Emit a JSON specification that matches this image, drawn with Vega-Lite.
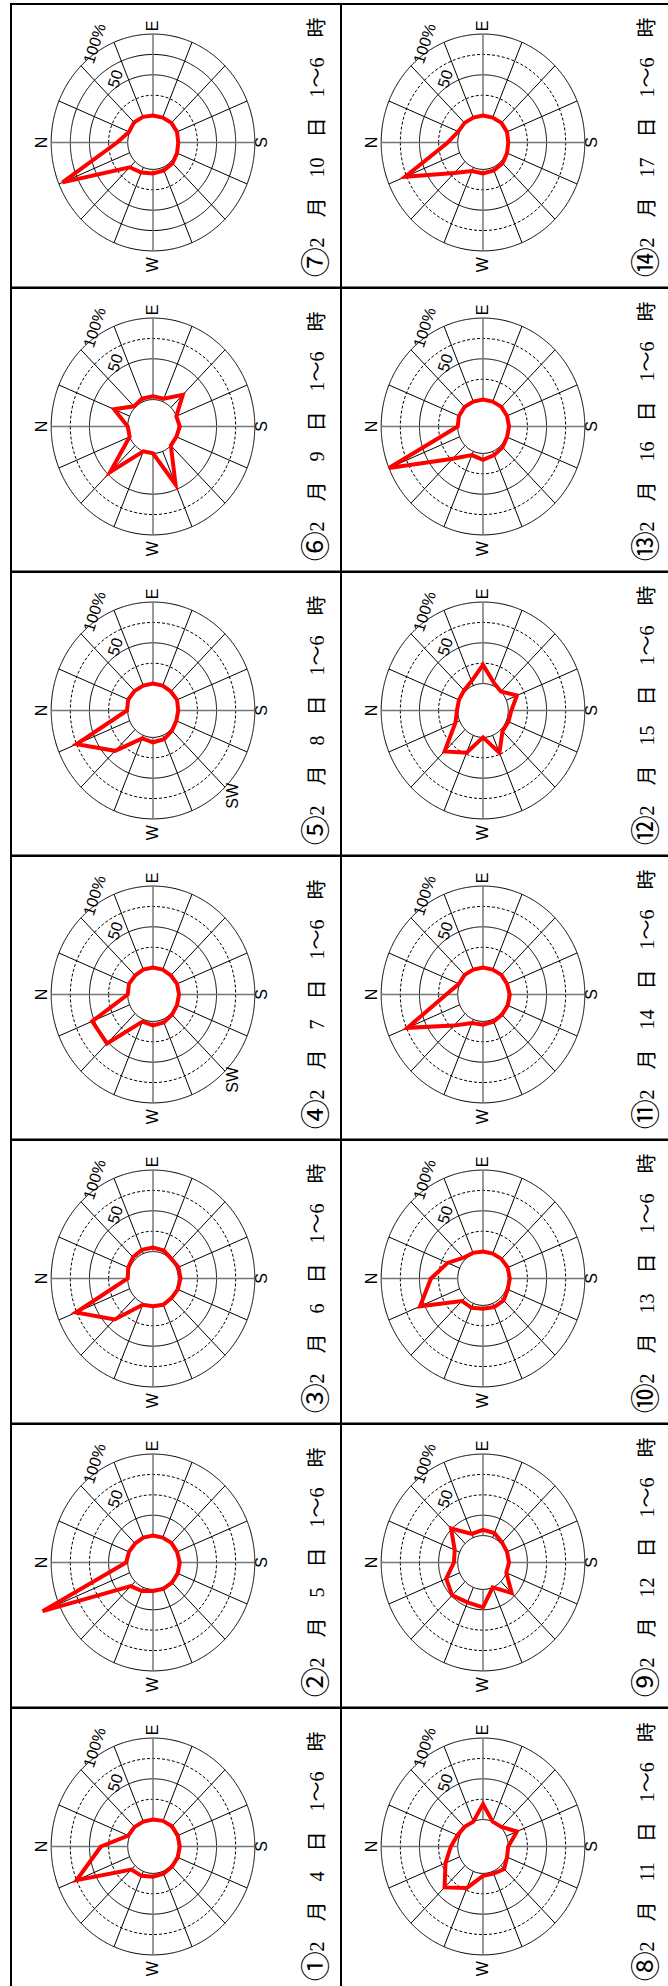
{
  "$schema": "https://vega.github.io/schema/vega-lite/v6.json",
  "background": "white",
  "padding": {"left": 10, "top": 3, "right": 0, "bottom": 0},
  "bounds": "flush",
  "config": {"view": {"stroke": "black", "strokeWidth": 2}},
  "data": {"values": [
    {"k":"r","pl":["p01","p02","p03","p04","p05","p06","p07","p08","p09","p10","p11","p12","p13","p14"],"v":0},
    {"k":"r","pl":["p01","p02","p03","p04","p05","p07","p08","p09","p10","p11","p12","p13","p14"],"v":25},
    {"k":"r","pl":["p01","p02","p03","p04","p05","p06","p07","p08","p09","p10","p11","p12","p13","p14"],"v":50},
    {"k":"r","pl":["p01","p02","p03","p04","p05","p06","p07","p08","p09","p10","p11","p12","p13","p14"],"v":75},
    {"k":"r","pl":["p01","p02","p03","p04","p05","p06","p07","p08","p09","p10","p11","p12","p13","p14"],"v":100},
    {"k":"s","pl":["p01","p02","p03","p04","p05","p06","p07","p08","p09","p10","p11","p12","p13","p14"],"d":0},
    {"k":"s","pl":["p01","p02","p03","p04","p05","p06","p07","p08","p09","p10","p11","p12","p13","p14"],"d":22.5},
    {"k":"s","pl":["p01","p02","p03","p04","p05","p06","p07","p08","p09","p10","p11","p12","p13","p14"],"d":45},
    {"k":"s","pl":["p01","p02","p03","p04","p05","p06","p07","p08","p09","p10","p11","p12","p13","p14"],"d":67.5},
    {"k":"s","pl":["p01","p02","p03","p04","p05","p06","p07","p08","p09","p10","p11","p12","p13","p14"],"d":90},
    {"k":"s","pl":["p01","p02","p03","p04","p05","p06","p07","p08","p09","p10","p11","p12","p13","p14"],"d":112.5},
    {"k":"s","pl":["p01","p02","p03","p04","p05","p06","p07","p08","p09","p10","p11","p12","p13","p14"],"d":135},
    {"k":"s","pl":["p01","p02","p03","p04","p05","p06","p07","p08","p09","p10","p11","p12","p13","p14"],"d":157.5},
    {"k":"s","pl":["p01","p02","p03","p04","p05","p06","p07","p08","p09","p10","p11","p12","p13","p14"],"d":180},
    {"k":"s","pl":["p01","p02","p03","p04","p05","p06","p07","p08","p09","p10","p11","p12","p13","p14"],"d":202.5},
    {"k":"s","pl":["p01","p02","p03","p04","p05","p06","p07","p08","p09","p10","p11","p12","p13","p14"],"d":225},
    {"k":"s","pl":["p01","p02","p03","p04","p05","p06","p07","p08","p09","p10","p11","p12","p13","p14"],"d":247.5},
    {"k":"s","pl":["p01","p02","p03","p04","p05","p06","p07","p08","p09","p10","p11","p12","p13","p14"],"d":270},
    {"k":"s","pl":["p01","p02","p03","p04","p05","p06","p07","p08","p09","p10","p11","p12","p13","p14"],"d":292.5},
    {"k":"s","pl":["p01","p02","p03","p04","p05","p06","p07","p08","p09","p10","p11","p12","p13","p14"],"d":315},
    {"k":"s","pl":["p01","p02","p03","p04","p05","p06","p07","p08","p09","p10","p11","p12","p13","p14"],"d":337.5},
    {"k":"c","pl":["p01","p02","p03","p04","p05","p06","p07","p08","p09","p10","p11","p12","p13","p14"],"t":"N","d":0,"v":112},
    {"k":"c","pl":["p01","p02","p03","p04","p05","p06","p07","p08","p09","p10","p11","p12","p13","p14"],"t":"E","d":90,"v":110},
    {"k":"c","pl":["p01","p02","p03","p04","p05","p06","p07","p08","p09","p10","p11","p12","p13","p14"],"t":"S","d":180,"v":109},
    {"k":"c","pl":["p01","p02","p03","p04","p05","p06","p07","p08","p09","p10","p11","p12","p13","p14"],"t":"W","d":270,"v":117},
    {"k":"c","pl":["p04","p05"],"t":"SW","d":225,"v":115},
    {"k":"l","pl":["p01","p02","p03","p04","p05","p06","p07","p08","p09","p10","p11","p12","p13","p14"],"t":"50","d":58,"v":59},
    {"k":"l","pl":["p01","p02","p03","p04","p05","p06","p07","p08","p09","p10","p11","p12","p13","p14"],"t":"100%","d":58,"v":110},
    {"k":"t","pl":["p01"],"n":"①","t":"2　月　4　日　1〜6　時"},
    {"k":"t","pl":["p02"],"n":"②","t":"2　月　5　日　1〜6　時"},
    {"k":"t","pl":["p03"],"n":"③","t":"2　月　6　日　1〜6　時"},
    {"k":"t","pl":["p04"],"n":"④","t":"2　月　7　日　1〜6　時"},
    {"k":"t","pl":["p05"],"n":"⑤","t":"2　月　8　日　1〜6　時"},
    {"k":"t","pl":["p06"],"n":"⑥","t":"2　月　9　日　1〜6　時"},
    {"k":"t","pl":["p07"],"n":"⑦","t":"2　月　10　日　1〜6　時"},
    {"k":"t","pl":["p08"],"n":"⑧","t":"2　月　11　日　1〜6　時"},
    {"k":"t","pl":["p09"],"n":"⑨","t":"2　月　12　日　1〜6　時"},
    {"k":"t","pl":["p10"],"n":"⑩","t":"2　月　13　日　1〜6　時"},
    {"k":"t","pl":["p11"],"n":"⑪","t":"2　月　14　日　1〜6　時"},
    {"k":"t","pl":["p12"],"n":"⑫","t":"2　月　15　日　1〜6　時"},
    {"k":"t","pl":["p13"],"n":"⑬","t":"2　月　16　日　1〜6　時"},
    {"k":"t","pl":["p14"],"n":"⑭","t":"2　月　17　日　1〜6　時"},

    {"k":"w","pl":["p01"],"d":0,"v":35},{"k":"w","pl":["p01"],"d":22.5,"v":2},{"k":"w","pl":["p01"],"d":45,"v":1},{"k":"w","pl":["p01"],"d":67.5,"v":0},
    {"k":"w","pl":["p01"],"d":90,"v":0},{"k":"w","pl":["p01"],"d":112.5,"v":1},{"k":"w","pl":["p01"],"d":135,"v":2},{"k":"w","pl":["p01"],"d":157.5,"v":2},
    {"k":"w","pl":["p01"],"d":180,"v":2},{"k":"w","pl":["p01"],"d":202.5,"v":2},{"k":"w","pl":["p01"],"d":225,"v":2},{"k":"w","pl":["p01"],"d":247.5,"v":3},
    {"k":"w","pl":["p01"],"d":270,"v":4},{"k":"w","pl":["p01"],"d":292.5,"v":6},{"k":"w","pl":["p01"],"d":315,"v":7},{"k":"w","pl":["p01"],"d":337.5,"v":75},

    {"k":"w","pl":["p02"],"d":0,"v":2},{"k":"w","pl":["p02"],"d":22.5,"v":1},{"k":"w","pl":["p02"],"d":45,"v":0},{"k":"w","pl":["p02"],"d":67.5,"v":0},
    {"k":"w","pl":["p02"],"d":90,"v":0},{"k":"w","pl":["p02"],"d":112.5,"v":0},{"k":"w","pl":["p02"],"d":135,"v":1},{"k":"w","pl":["p02"],"d":157.5,"v":1},
    {"k":"w","pl":["p02"],"d":180,"v":2},{"k":"w","pl":["p02"],"d":202.5,"v":2},{"k":"w","pl":["p02"],"d":225,"v":2},{"k":"w","pl":["p02"],"d":247.5,"v":2},
    {"k":"w","pl":["p02"],"d":270,"v":2},{"k":"w","pl":["p02"],"d":292.5,"v":5},{"k":"w","pl":["p02"],"d":315,"v":8},{"k":"w","pl":["p02"],"d":337.5,"v":123},

    {"k":"w","pl":["p03"],"d":0,"v":0},{"k":"w","pl":["p03"],"d":22.5,"v":2},{"k":"w","pl":["p03"],"d":45,"v":4},{"k":"w","pl":["p03"],"d":67.5,"v":5},
    {"k":"w","pl":["p03"],"d":90,"v":5},{"k":"w","pl":["p03"],"d":112.5,"v":4},{"k":"w","pl":["p03"],"d":135,"v":1},{"k":"w","pl":["p03"],"d":157.5,"v":3},
    {"k":"w","pl":["p03"],"d":180,"v":3},{"k":"w","pl":["p03"],"d":202.5,"v":2},{"k":"w","pl":["p03"],"d":225,"v":1},{"k":"w","pl":["p03"],"d":247.5,"v":2},
    {"k":"w","pl":["p03"],"d":270,"v":1},{"k":"w","pl":["p03"],"d":292.5,"v":2},{"k":"w","pl":["p03"],"d":315,"v":38},{"k":"w","pl":["p03"],"d":337.5,"v":76},

    {"k":"w","pl":["p04"],"d":0,"v":0},{"k":"w","pl":["p04"],"d":22.5,"v":1},{"k":"w","pl":["p04"],"d":45,"v":0},{"k":"w","pl":["p04"],"d":67.5,"v":0},
    {"k":"w","pl":["p04"],"d":90,"v":0},{"k":"w","pl":["p04"],"d":112.5,"v":0},{"k":"w","pl":["p04"],"d":135,"v":0},{"k":"w","pl":["p04"],"d":157.5,"v":1},
    {"k":"w","pl":["p04"],"d":180,"v":1},{"k":"w","pl":["p04"],"d":202.5,"v":1},{"k":"w","pl":["p04"],"d":225,"v":2},{"k":"w","pl":["p04"],"d":247.5,"v":4},
    {"k":"w","pl":["p04"],"d":270,"v":5},{"k":"w","pl":["p04"],"d":292.5,"v":3},{"k":"w","pl":["p04"],"d":315,"v":52},{"k":"w","pl":["p04"],"d":337.5,"v":53},

    {"k":"w","pl":["p05"],"d":0,"v":1},{"k":"w","pl":["p05"],"d":22.5,"v":2},{"k":"w","pl":["p05"],"d":45,"v":1},{"k":"w","pl":["p05"],"d":67.5,"v":0},
    {"k":"w","pl":["p05"],"d":90,"v":0},{"k":"w","pl":["p05"],"d":112.5,"v":0},{"k":"w","pl":["p05"],"d":135,"v":0},{"k":"w","pl":["p05"],"d":157.5,"v":1},
    {"k":"w","pl":["p05"],"d":180,"v":0},{"k":"w","pl":["p05"],"d":202.5,"v":0},{"k":"w","pl":["p05"],"d":225,"v":2},{"k":"w","pl":["p05"],"d":247.5,"v":5},
    {"k":"w","pl":["p05"],"d":270,"v":6},{"k":"w","pl":["p05"],"d":292.5,"v":4},{"k":"w","pl":["p05"],"d":315,"v":37},{"k":"w","pl":["p05"],"d":337.5,"v":75},

    {"k":"w","pl":["p06"],"d":0,"v":0},{"k":"w","pl":["p06"],"d":22.5,"v":22},{"k":"w","pl":["p06"],"d":45,"v":2},{"k":"w","pl":["p06"],"d":67.5,"v":4},
    {"k":"w","pl":["p06"],"d":90,"v":4},{"k":"w","pl":["p06"],"d":112.5,"v":4},{"k":"w","pl":["p06"],"d":135,"v":22},{"k":"w","pl":["p06"],"d":157.5,"v":0},
    {"k":"w","pl":["p06"],"d":180,"v":2},{"k":"w","pl":["p06"],"d":202.5,"v":0},{"k":"w","pl":["p06"],"d":225,"v":0},{"k":"w","pl":["p06"],"d":247.5,"v":44},
    {"k":"w","pl":["p06"],"d":270,"v":0},{"k":"w","pl":["p06"],"d":292.5,"v":0},{"k":"w","pl":["p06"],"d":315,"v":46},{"k":"w","pl":["p06"],"d":337.5,"v":0},

    {"k":"w","pl":["p07"],"d":0,"v":14},{"k":"w","pl":["p07"],"d":22.5,"v":1},{"k":"w","pl":["p07"],"d":45,"v":2},{"k":"w","pl":["p07"],"d":67.5,"v":1},
    {"k":"w","pl":["p07"],"d":90,"v":0},{"k":"w","pl":["p07"],"d":112.5,"v":0},{"k":"w","pl":["p07"],"d":135,"v":1},{"k":"w","pl":["p07"],"d":157.5,"v":1},
    {"k":"w","pl":["p07"],"d":180,"v":0},{"k":"w","pl":["p07"],"d":202.5,"v":1},{"k":"w","pl":["p07"],"d":225,"v":3},{"k":"w","pl":["p07"],"d":247.5,"v":4},
    {"k":"w","pl":["p07"],"d":270,"v":5},{"k":"w","pl":["p07"],"d":292.5,"v":7},{"k":"w","pl":["p07"],"d":315,"v":10},{"k":"w","pl":["p07"],"d":337.5,"v":95},

    {"k":"w","pl":["p08"],"d":0,"v":9},{"k":"w","pl":["p08"],"d":22.5,"v":3},{"k":"w","pl":["p08"],"d":45,"v":1},{"k":"w","pl":["p08"],"d":67.5,"v":0},
    {"k":"w","pl":["p08"],"d":90,"v":19},{"k":"w","pl":["p08"],"d":112.5,"v":0},{"k":"w","pl":["p08"],"d":135,"v":1},{"k":"w","pl":["p08"],"d":157.5,"v":15},
    {"k":"w","pl":["p08"],"d":180,"v":0},{"k":"w","pl":["p08"],"d":202.5,"v":1},{"k":"w","pl":["p08"],"d":225,"v":6},{"k":"w","pl":["p08"],"d":247.5,"v":3},
    {"k":"w","pl":["p08"],"d":270,"v":3},{"k":"w","pl":["p08"],"d":292.5,"v":22},{"k":"w","pl":["p08"],"d":315,"v":38},{"k":"w","pl":["p08"],"d":337.5,"v":20},

    {"k":"w","pl":["p09"],"d":0,"v":5},{"k":"w","pl":["p09"],"d":22.5,"v":7},{"k":"w","pl":["p09"],"d":45,"v":26},{"k":"w","pl":["p09"],"d":67.5,"v":5},
    {"k":"w","pl":["p09"],"d":90,"v":7},{"k":"w","pl":["p09"],"d":112.5,"v":6},{"k":"w","pl":["p09"],"d":135,"v":2},{"k":"w","pl":["p09"],"d":157.5,"v":1},
    {"k":"w","pl":["p09"],"d":180,"v":1},{"k":"w","pl":["p09"],"d":202.5,"v":0},{"k":"w","pl":["p09"],"d":225,"v":20},{"k":"w","pl":["p09"],"d":247.5,"v":0},
    {"k":"w","pl":["p09"],"d":270,"v":22},{"k":"w","pl":["p09"],"d":292.5,"v":20},{"k":"w","pl":["p09"],"d":315,"v":24},{"k":"w","pl":["p09"],"d":337.5,"v":19},

    {"k":"w","pl":["p10"],"d":0,"v":35},{"k":"w","pl":["p10"],"d":22.5,"v":17},{"k":"w","pl":["p10"],"d":45,"v":3},{"k":"w","pl":["p10"],"d":67.5,"v":1},
    {"k":"w","pl":["p10"],"d":90,"v":0},{"k":"w","pl":["p10"],"d":112.5,"v":0},{"k":"w","pl":["p10"],"d":135,"v":1},{"k":"w","pl":["p10"],"d":157.5,"v":2},
    {"k":"w","pl":["p10"],"d":180,"v":2},{"k":"w","pl":["p10"],"d":202.5,"v":2},{"k":"w","pl":["p10"],"d":225,"v":5},{"k":"w","pl":["p10"],"d":247.5,"v":5},
    {"k":"w","pl":["p10"],"d":270,"v":4},{"k":"w","pl":["p10"],"d":292.5,"v":6},{"k":"w","pl":["p10"],"d":315,"v":6},{"k":"w","pl":["p10"],"d":337.5,"v":56},

    {"k":"w","pl":["p11"],"d":0,"v":15},{"k":"w","pl":["p11"],"d":22.5,"v":1},{"k":"w","pl":["p11"],"d":45,"v":1},{"k":"w","pl":["p11"],"d":67.5,"v":0},
    {"k":"w","pl":["p11"],"d":90,"v":0},{"k":"w","pl":["p11"],"d":112.5,"v":0},{"k":"w","pl":["p11"],"d":135,"v":1},{"k":"w","pl":["p11"],"d":157.5,"v":1},
    {"k":"w","pl":["p11"],"d":180,"v":2},{"k":"w","pl":["p11"],"d":202.5,"v":2},{"k":"w","pl":["p11"],"d":225,"v":2},{"k":"w","pl":["p11"],"d":247.5,"v":3},
    {"k":"w","pl":["p11"],"d":270,"v":4},{"k":"w","pl":["p11"],"d":292.5,"v":5},{"k":"w","pl":["p11"],"d":315,"v":21},{"k":"w","pl":["p11"],"d":337.5,"v":74},

    {"k":"w","pl":["p12"],"d":0,"v":1},{"k":"w","pl":["p12"],"d":22.5,"v":1},{"k":"w","pl":["p12"],"d":45,"v":2},{"k":"w","pl":["p12"],"d":67.5,"v":6},
    {"k":"w","pl":["p12"],"d":90,"v":23},{"k":"w","pl":["p12"],"d":112.5,"v":4},{"k":"w","pl":["p12"],"d":135,"v":0},{"k":"w","pl":["p12"],"d":157.5,"v":15},
    {"k":"w","pl":["p12"],"d":180,"v":4},{"k":"w","pl":["p12"],"d":202.5,"v":3},{"k":"w","pl":["p12"],"d":225,"v":3},{"k":"w","pl":["p12"],"d":247.5,"v":23},
    {"k":"w","pl":["p12"],"d":270,"v":0},{"k":"w","pl":["p12"],"d":292.5,"v":23},{"k":"w","pl":["p12"],"d":315,"v":38},{"k":"w","pl":["p12"],"d":337.5,"v":6},

    {"k":"w","pl":["p13"],"d":0,"v":0},{"k":"w","pl":["p13"],"d":22.5,"v":1},{"k":"w","pl":["p13"],"d":45,"v":1},{"k":"w","pl":["p13"],"d":67.5,"v":0},
    {"k":"w","pl":["p13"],"d":90,"v":0},{"k":"w","pl":["p13"],"d":112.5,"v":0},{"k":"w","pl":["p13"],"d":135,"v":1},{"k":"w","pl":["p13"],"d":157.5,"v":1},
    {"k":"w","pl":["p13"],"d":180,"v":1},{"k":"w","pl":["p13"],"d":202.5,"v":1},{"k":"w","pl":["p13"],"d":225,"v":3},{"k":"w","pl":["p13"],"d":247.5,"v":5},
    {"k":"w","pl":["p13"],"d":270,"v":8},{"k":"w","pl":["p13"],"d":292.5,"v":5},{"k":"w","pl":["p13"],"d":315,"v":23},{"k":"w","pl":["p13"],"d":337.5,"v":100},

    {"k":"w","pl":["p14"],"d":0,"v":13},{"k":"w","pl":["p14"],"d":22.5,"v":2},{"k":"w","pl":["p14"],"d":45,"v":1},{"k":"w","pl":["p14"],"d":67.5,"v":0},
    {"k":"w","pl":["p14"],"d":90,"v":0},{"k":"w","pl":["p14"],"d":112.5,"v":0},{"k":"w","pl":["p14"],"d":135,"v":1},{"k":"w","pl":["p14"],"d":157.5,"v":1},
    {"k":"w","pl":["p14"],"d":180,"v":0},{"k":"w","pl":["p14"],"d":202.5,"v":1},{"k":"w","pl":["p14"],"d":225,"v":3},{"k":"w","pl":["p14"],"d":247.5,"v":4},
    {"k":"w","pl":["p14"],"d":270,"v":5},{"k":"w","pl":["p14"],"d":292.5,"v":5},{"k":"w","pl":["p14"],"d":315,"v":20},{"k":"w","pl":["p14"],"d":337.5,"v":77}
  ]},
  "transform": [
    {"flatten": ["pl"], "as": ["panel"]},
    {"calculate": "toNumber(substring(datum.panel, 1))", "as": "pn"},
    {"calculate": "7 - ((datum.pn - 1) % 7)", "as": "prow"},
    {"calculate": "datum.pn > 7 ? 2 : 1", "as": "pcol"},
    {"calculate": "datum.v + 33", "as": "rho"},
    {"calculate": "-datum.rho * cos(datum.d * PI / 180)", "as": "px"},
    {"calculate": "datum.rho * sin(datum.d * PI / 180)", "as": "py"}
  ],
  "facet": {
    "row": {"field": "prow", "type": "ordinal", "title": null, "header": null},
    "column": {"field": "pcol", "type": "ordinal", "title": null, "header": null}
  },
  "spacing": 0,
  "spec": {
    "width": 330,
    "height": 283.5,
    "encoding": {
      "x": {"type": "quantitative", "axis": null, "scale": {"domain": [-185.5, 245.6], "nice": false, "zero": false}},
      "y": {"type": "quantitative", "axis": null, "scale": {"domain": [-177.9, 169.9], "nice": false, "zero": false}}
    },
    "layer": [
      {
        "transform": [{"filter": "datum.k == 'r'"}],
        "mark": {"type": "point", "shape": "M -1 0 A 1 1.065 0 1 0 1 0 A 1 1.065 0 1 0 -1 0 Z", "filled": false, "color": "black", "strokeWidth": 1, "opacity": 1},
        "encoding": {
          "x": {"datum": 0, "type": "quantitative"},
          "y": {"datum": 0, "type": "quantitative"},
          "size": {"field": "rho", "type": "quantitative", "legend": null, "scale": {"type": "pow", "exponent": 2, "domain": [0, 133], "range": [0, 41453]}},
          "strokeDash": {
            "condition": {"test": "(datum.v == 25 && datum.panel != 'p02' && datum.panel != 'p09') || (datum.v == 75 && datum.panel != 'p07') || (datum.v == 50 && (datum.panel == 'p02' || datum.panel == 'p09'))", "value": [3, 2]},
            "value": [1, 0]
          }
        }
      },
      {
        "transform": [
          {"filter": "datum.k == 's'"},
          {"calculate": "-33 * cos(datum.d * PI / 180)", "as": "sx1"},
          {"calculate": "33 * sin(datum.d * PI / 180)", "as": "sy1"},
          {"calculate": "-133 * cos(datum.d * PI / 180)", "as": "sx2"},
          {"calculate": "133 * sin(datum.d * PI / 180)", "as": "sy2"}
        ],
        "mark": {"type": "rule"},
        "encoding": {
          "x": {"field": "sx1", "type": "quantitative"},
          "y": {"field": "sy1", "type": "quantitative"},
          "x2": {"field": "sx2"},
          "y2": {"field": "sy2"},
          "color": {"condition": {"test": "datum.d % 90 == 0", "value": "#767676"}, "value": "black"},
          "strokeWidth": {"condition": {"test": "datum.d % 90 == 0", "value": 1.5}, "value": 1}
        }
      },
      {
        "transform": [{"filter": "datum.k == 'c'"}],
        "mark": {"type": "text", "angle": 270, "font": "Liberation Sans Narrow, Liberation Sans", "fontSize": 16, "align": "center", "baseline": "middle", "color": "black"},
        "encoding": {
          "x": {"field": "px", "type": "quantitative"},
          "y": {"field": "py", "type": "quantitative"},
          "text": {"field": "t"}
        }
      },
      {
        "transform": [{"filter": "datum.k == 'l'"}],
        "mark": {"type": "text", "angle": 288, "font": "Liberation Sans Narrow, Liberation Sans", "fontSize": 16, "align": "center", "baseline": "middle", "color": "black"},
        "encoding": {
          "x": {"field": "px", "type": "quantitative"},
          "y": {"field": "py", "type": "quantitative"},
          "text": {"field": "t"}
        }
      },
      {
        "transform": [{"filter": "datum.k == 'w'"}],
        "mark": {"type": "line", "color": "#ff0000", "strokeWidth": 4, "interpolate": "linear-closed"},
        "encoding": {
          "x": {"field": "px", "type": "quantitative"},
          "y": {"field": "py", "type": "quantitative"},
          "order": {"field": "d", "type": "quantitative"}
        }
      },
      {
        "transform": [{"filter": "datum.k == 't'"}],
        "mark": {"type": "text", "angle": 270, "font": "Noto Sans CJK JP", "fontSize": 30, "align": "center", "baseline": "middle", "color": "black"},
        "encoding": {
          "x": {"datum": 214.3, "type": "quantitative"},
          "y": {"datum": -147, "type": "quantitative"},
          "text": {"field": "n"}
        }
      },
      {
        "transform": [{"filter": "datum.k == 't'"}],
        "mark": {"type": "text", "angle": 270, "font": "Liberation Serif, Noto Sans CJK JP", "fontSize": 20, "align": "left", "baseline": "middle", "color": "black"},
        "encoding": {
          "x": {"datum": 216, "type": "quantitative"},
          "y": {"datum": -128.8, "type": "quantitative"},
          "text": {"field": "t"}
        }
      }
    ]
  }
}
